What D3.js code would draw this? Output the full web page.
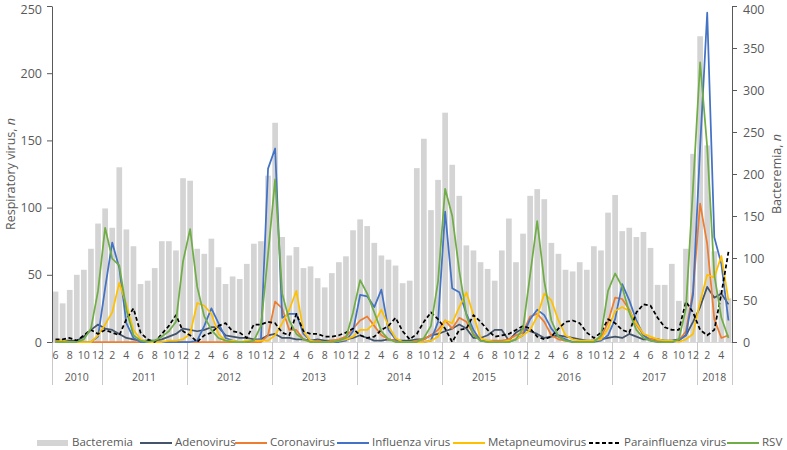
<!DOCTYPE html>
<html><head><meta charset="utf-8">
<script src="https://cdn.jsdelivr.net/npm/d3@7"></script>
<style>body{margin:0;background:#fff;} svg{display:block;}</style>
</head><body><svg id="c" width="787" height="450"></svg>
<script>
const categories = [
"2010-06","2010-07","2010-08","2010-09","2010-10","2010-11","2010-12",
"2011-01","2011-02","2011-03","2011-04","2011-05","2011-06","2011-07","2011-08","2011-09","2011-10","2011-11","2011-12",
"2012-01","2012-02","2012-03","2012-04","2012-05","2012-06","2012-07","2012-08","2012-09","2012-10","2012-11","2012-12",
"2013-01","2013-02","2013-03","2013-04","2013-05","2013-06","2013-07","2013-08","2013-09","2013-10","2013-11","2013-12",
"2014-01","2014-02","2014-03","2014-04","2014-05","2014-06","2014-07","2014-08","2014-09","2014-10","2014-11","2014-12",
"2015-01","2015-02","2015-03","2015-04","2015-05","2015-06","2015-07","2015-08","2015-09","2015-10","2015-11","2015-12",
"2016-01","2016-02","2016-03","2016-04","2016-05","2016-06","2016-07","2016-08","2016-09","2016-10","2016-11","2016-12",
"2017-01","2017-02","2017-03","2017-04","2017-05","2017-06","2017-07","2017-08","2017-09","2017-10","2017-11","2017-12",
"2018-01","2018-02","2018-03","2018-04","2018-05"];
const years = ["2010","2011","2012","2013","2014","2015","2016","2017","2018"];

const bacteremia = [60,46,62,80,86,111,141,159,136,208,134,114,69,73,88,120,120,109,195,192,
111,105,123,89,69,78,75,93,117,120,198,261,125,103,113,88,90,76,65,82,
95,102,133,146,138,118,103,98,91,70,73,207,242,157,193,273,211,174,115,109,
95,87,73,109,147,95,129,174,182,170,118,105,86,84,95,86,114,109,154,175,
132,136,125,131,112,68,68,93,49,111,224,364,234,108,62,52];

const adenovirus = [1,1,1,1,4,9,13,10,9,6, 3,2,1,1,1,2,4,6,10,9, 8,9,11,11,5,4,3,3,2,2,
5,6,3,3,2,2,1,2,1,1, 1,2,3,5,3,1,1,2,1,1, 1,2,2,5,6,8,10,13,10,3,
3,5,9,9,1,7,10,8,6,3, 4,5,4,3,2,1,1,2,3,4, 3,6,4,2,2,2,1,1,2,5, 15,26,41,33,36,28];

const coronavirus = [0,0,0,0,0,0,0,0,0,0, 0,0,0,0,0,0,0,0,0,0, 0,0,0,0,0,0,0,0,0,0,
5,30,25,9,9,2,0,1,0,1, 2,4,10,16,19,12,5,2,1,0, 0,1,2,5,9,16,10,18,15,6,
1,1,1,1,2,5,7,19,21,15, 5,2,1,0,0,0,1,3,15,33, 32,24,13,5,2,1,0,0,1,8, 38,103,73,17,3,5];

const influenza = [0,0,0,0,0,0,4,40,74,55, 14,3,0,0,0,0,0,0,0,0, 1,12,25,14,3,1,0,0,1,2,
129,144,18,21,21,6,1,0,0,0, 0,1,8,35,34,26,39,9,2,0, 0,0,0,1,15,97,40,37,21,9,
1,0,0,0,0,2,5,17,24,20, 10,4,2,0,0,0,0,1,5,17, 43,31,16,5,1,0,0,0,1,5, 35,145,245,78,58,16];

const metapneumovirus = [1,1,0,0,0,0,5,13,22,44, 28,9,2,0,0,0,1,1,2,6, 29,27,21,6,1,1,0,1,1,1,
1,5,14,24,38,8,1,0,0,0, 1,2,4,9,9,14,24,12,3,0, 0,0,0,1,4,16,14,26,37,20,
3,1,0,0,1,2,5,9,19,36, 31,16,5,2,1,1,1,2,10,23, 26,23,14,6,4,2,1,1,0,2, 6,30,50,48,64,31];

const parainfluenza = [2,2,3,1,5,9,6,9,7,5, 17,25,7,2,0,6,12,20,8,5, 0,5,7,12,14,8,7,3,13,13,
15,14,7,5,21,8,6,6,4,4, 5,7,10,5,3,4,9,12,18,8, 2,6,15,22,17,10,0,9,10,20,
15,9,4,5,6,9,12,10,4,2, 4,10,15,16,14,7,3,7,17,14, 9,7,22,28,27,18,11,9,9,30, 22,9,5,9,36,67];

const rsv = [0,0,0,0,2,10,38,85,62,57, 24,5,1,0,1,4,8,15,60,84, 41,19,9,3,1,0,0,0,1,12,
65,121,36,16,6,2,0,0,0,0, 1,3,22,46,36,22,8,2,0,0, 0,0,3,12,45,114,94,53,20,5,
1,0,0,0,0,2,10,50,90,45, 16,4,1,0,0,0,0,5,38,51, 41,22,9,3,1,0,0,0,2,25, 115,208,145,50,18,3];

const leftTicks = [0,50,100,150,200,250];
const rightTicks = [0,50,100,150,200,250,300,350,400];

const FONT = "'Open Sans','Segoe UI',sans-serif";
const TXT = "#595959";
const svg = d3.select("#c").attr("font-family", FONT);
const X0 = 52, X1 = 732, Y0 = 342, Y1 = 6;

const x = d3.scaleBand().domain(categories).range([X0, X1]).paddingInner(0.2).paddingOuter(0.1);
const yL = d3.scaleLinear().domain([0, 250]).range([Y0, Y1]);
const yR = d3.scaleLinear().domain([0, 400]).range([Y0, Y1]);
const cx = c => x(c) + x.bandwidth() / 2;
const edge = c => x(c) - x.step() * x.paddingInner() / 2;

// bars
svg.append("g").selectAll("rect").data(categories).join("rect")
  .attr("x", c => x(c)).attr("width", x.bandwidth())
  .attr("y", (c, i) => yR(bacteremia[i]))
  .attr("height", (c, i) => Y0 - yR(bacteremia[i]))
  .attr("fill", "#d4d4d4");

// category axis baseline
svg.append("line").attr("x1", X0).attr("x2", X1).attr("y1", Y0 + 0.5).attr("y2", Y0 + 0.5)
  .attr("stroke", "#d9d9d9");

// year separators
const yearStarts = years.map(y => categories.find(c => c.startsWith(y)));
const sepX = yearStarts.map(c => edge(c)).concat([X1]);
svg.append("g").selectAll("line").data(sepX).join("line")
  .attr("x1", d => Math.round(d) + 0.5).attr("x2", d => Math.round(d) + 0.5)
  .attr("y1", Y0).attr("y2", 385).attr("stroke", "#c8c8c8");

// month labels
svg.append("g").selectAll("text").data(categories.filter((c, i) => i % 2 === 0)).join("text")
  .attr("x", c => cx(c)).attr("y", 356).attr("text-anchor", "middle")
  .attr("dominant-baseline", "middle").attr("font-size", 10.5).attr("fill", TXT)
  .text(c => String(+c.slice(5)));

// year labels
svg.append("g").selectAll("text").data(years).join("text")
  .attr("x", (y, i) => (sepX[i] + sepX[i + 1]) / 2).attr("y", 378)
  .attr("text-anchor", "middle").attr("dominant-baseline", "middle")
  .attr("font-size", 10.5).attr("fill", TXT).text(y => y);

// lines
const series = [
  {name: "Adenovirus", values: adenovirus, color: "#44546A", dash: null},
  {name: "Coronavirus", values: coronavirus, color: "#ED7D31", dash: null},
  {name: "Influenza virus", values: influenza, color: "#4472C4", dash: null},
  {name: "Metapneumovirus", values: metapneumovirus, color: "#FFC000", dash: null},
  {name: "Parainfluenza virus", values: parainfluenza, color: "#000000", dash: "4,2.5"},
  {name: "RSV", values: rsv, color: "#70AD47", dash: null}
];
const line = d3.line().x((d, i) => cx(categories[i])).y(d => yL(d));
svg.append("g").selectAll("path").data(series).join("path")
  .attr("d", s => line(s.values)).attr("fill", "none")
  .attr("stroke", s => s.color).attr("stroke-width", 1.75)
  .attr("stroke-dasharray", s => s.dash).attr("stroke-linejoin", "round");

// axes
const gl = svg.append("g").attr("transform", `translate(${X0},0)`)
  .call(d3.axisLeft(yL).tickValues(leftTicks).tickSize(5).tickPadding(5).tickSizeOuter(0));
const gr = svg.append("g").attr("transform", `translate(${X1},0)`)
  .call(d3.axisRight(yR).tickValues(rightTicks).tickSize(5).tickPadding(6).tickSizeOuter(0));
[gl, gr].forEach(g => {
  g.attr("font-family", FONT).attr("font-size", 12.5);
  g.select(".domain").attr("stroke", "#595959");
  g.selectAll(".tick line").attr("stroke", "#595959");
  g.selectAll(".tick text").attr("fill", TXT);
});
// keep the topmost labels inside the picture
gl.selectAll(".tick text").filter(d => d === 250).attr("dy", "0.62em");
gr.selectAll(".tick text").filter(d => d === 400).attr("dy", "0.62em");

// axis titles
const tl = svg.append("text").attr("transform", `translate(12,${(Y0 + Y1) / 2}) rotate(-90)`)
  .attr("text-anchor", "middle").attr("dominant-baseline", "middle")
  .attr("font-size", 12.5).attr("fill", TXT);
tl.append("tspan").text("Respiratory virus, ");
tl.append("tspan").attr("font-style", "italic").text("n");
const tr = svg.append("text").attr("transform", `translate(778,${(Y0 + Y1) / 2}) rotate(-90)`)
  .attr("text-anchor", "middle").attr("dominant-baseline", "middle")
  .attr("font-size", 12.5).attr("fill", TXT);
tr.append("tspan").text("Bacteremia, ");
tr.append("tspan").attr("font-style", "italic").text("n");

// legend
const legY = 443;
const legX = [37, 140, 235, 337, 453, 589, 727];
const leg = svg.append("g");
const items = [{name: "Bacteremia", bar: true}].concat(series);
items.forEach((it, k) => {
  const g = leg.append("g").attr("transform", `translate(${legX[k]},${legY})`);
  if (it.bar) {
    g.append("rect").attr("x", 0).attr("y", -3).attr("width", 31).attr("height", 6).attr("fill", "#d4d4d4");
  } else {
    g.append("line").attr("x1", 0).attr("x2", 32).attr("y1", 0).attr("y2", 0)
      .attr("stroke", it.color).attr("stroke-width", 2).attr("stroke-dasharray", it.dash);
  }
  g.append("text").attr("x", 35).attr("y", 0).attr("dominant-baseline", "middle")
    .attr("font-size", 11.5).attr("fill", TXT).text(it.name);
});
</script></body></html>
